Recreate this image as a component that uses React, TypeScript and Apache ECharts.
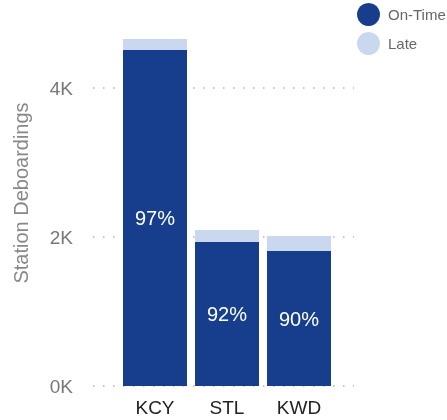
import React, { useEffect, useRef } from "react";
import * as echarts from "echarts";

const categories = ["KCY", "STL", "KWD"];
const onTime = [4510, 1933, 1812];
const late = [148, 161, 201];
const yTicks = [0, 2000, 4000];
const seriesNames = ["On-Time", "Late"];

const FONT = "Liberation Sans, Arial, Helvetica, sans-serif";

export default function App() {
  const ref = useRef<HTMLDivElement>(null);
  useEffect(() => {
    if (!ref.current) return;
    const chart = echarts.init(ref.current, undefined, { renderer: "svg" });
    const tickMax = yTicks[yTicks.length - 1];
    const tickStep = yTicks[1] - yTicks[0];
    chart.setOption({
      animation: false,
      textStyle: { fontFamily: FONT },
      legend: {
        data: seriesNames,
        orient: "vertical",
        left: 357,
        top: 3,
        padding: 0,
        icon: "circle",
        itemWidth: 23,
        itemHeight: 23,
        itemGap: 6,
        textStyle: { color: "#666", fontSize: 15, fontFamily: FONT, padding: [0, 0, 0, 3] },
      },
      grid: [
        { left: 93, width: 261, top: 88, height: 298 },
        { left: 119, width: 216, top: 0, height: 386 },
      ],
      xAxis: [
        { gridIndex: 0, type: "category", data: [], show: false },
        {
          gridIndex: 1,
          type: "category",
          data: categories,
          axisLine: { show: false },
          axisTick: { show: false },
          axisLabel: { color: "#222", fontSize: 19, margin: 12, fontFamily: FONT },
        },
      ],
      yAxis: [
        {
          gridIndex: 0,
          type: "value",
          min: 0,
          max: tickMax,
          interval: tickStep,
          axisLine: { show: false },
          axisTick: { show: false },
          axisLabel: {
            color: "#777",
            fontSize: 19,
            margin: 20,
            fontFamily: FONT,
            formatter: (v: number) => `${v / 1000}K`,
          },
          splitLine: { show: true, lineStyle: { color: "#b5b5b5", width: 1.5, type: [1.5, 8.5] } },
        },
        {
          gridIndex: 1,
          type: "value",
          min: 0,
          max: 5181,
          axisLine: { show: false },
          axisTick: { show: false },
          axisLabel: { show: false },
          splitLine: { show: false },
          name: "Station Deboardings",
          nameLocation: "middle",
          nameGap: 88,
          nameTextStyle: { color: "#888", fontSize: 20, fontFamily: FONT },
        },
      ],
      series: [
        {
          name: "On-Time",
          type: "bar",
          stack: "total",
          xAxisIndex: 1,
          yAxisIndex: 1,
          barWidth: 64,
          data: onTime,
          itemStyle: { color: "#173E8C" },
          label: {
            show: true,
            position: "inside",
            color: "#fff",
            fontSize: 20,
            fontFamily: FONT,
            formatter: (p: any) =>
              `${Math.round((onTime[p.dataIndex] / (onTime[p.dataIndex] + late[p.dataIndex])) * 100)}%`,
          },
        },
        {
          name: "Late",
          type: "bar",
          stack: "total",
          xAxisIndex: 1,
          yAxisIndex: 1,
          barWidth: 64,
          data: late,
          itemStyle: { color: "#C9D8EF" },
        },
      ],
    });
    return () => chart.dispose();
  }, []);
  return (
    <div
      ref={ref}
      style={{ position: "fixed", left: 0, top: 0, width: 447, height: 420 }}
    />
  );
}
